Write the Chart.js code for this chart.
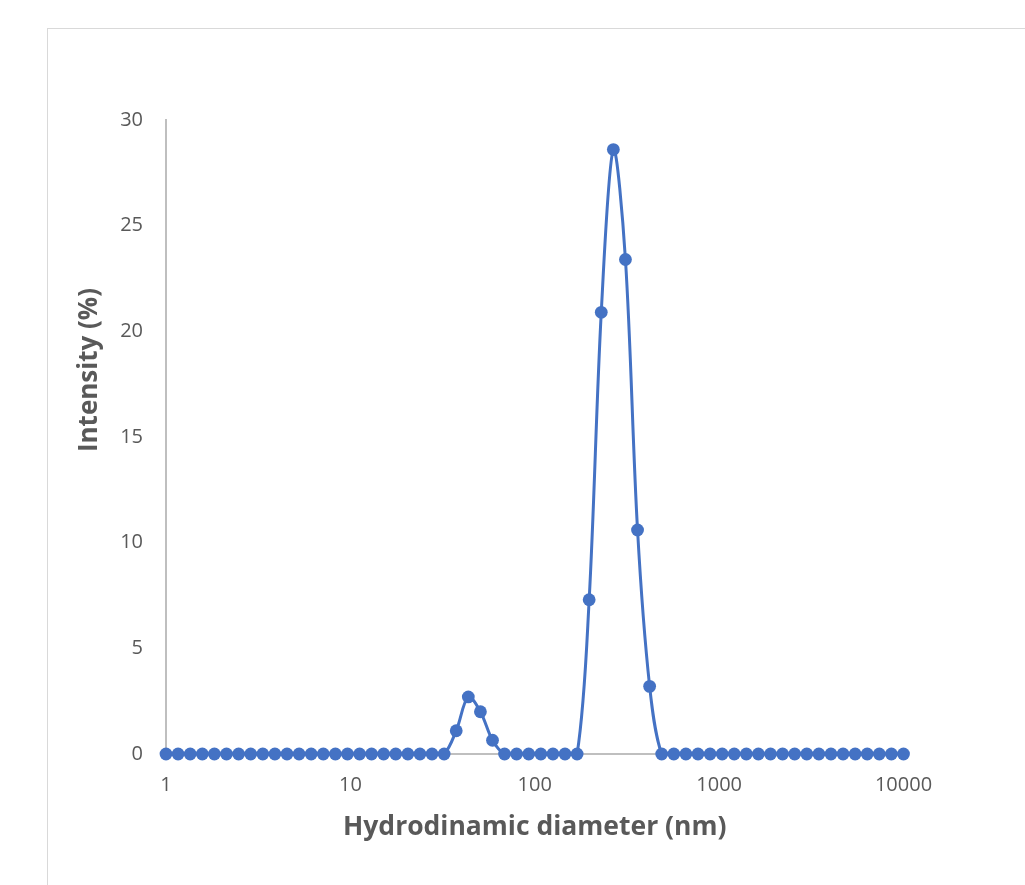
<!DOCTYPE html>
<html>
<head>
<meta charset="utf-8">
<script src="https://cdn.jsdelivr.net/npm/chart.js@4/dist/chart.umd.min.js"></script>
<style>
  html, body { margin: 0; padding: 0; width: 1025px; height: 885px; overflow: hidden; background: #ffffff; }
  #frame { position: absolute; left: 47px; top: 28px; width: 1200px; height: 1100px; border: 1.5px solid #d9d9d9; box-sizing: border-box; }
  #c { position: absolute; left: 0; top: 0; }
</style>
</head>
<body>
<div id="frame"></div>
<canvas id="c" width="1025" height="885"></canvas>
<script>
// Hydrodynamic diameter bins (nm)
const diameters = [
  1, 1.163, 1.353, 1.574, 1.830, 2.129, 2.476, 2.880, 3.349, 3.896,
  4.532, 5.271, 6.131, 7.131, 8.294, 9.646, 11.22, 13.03, 15.15, 17.62,
  20.50, 23.84, 27.72, 32.25, 37.50, 43.62, 50.74, 59.00, 68.59, 79.73,
  92.73, 107.9, 125.5, 145.9, 169.7, 197.3, 229.5, 266.9, 310.4, 361.0,
  419.9, 488.2, 567.8, 660.4, 768.0, 893.3, 1039, 1208, 1405, 1633,
  1900, 2209, 2569, 2988, 3475, 4042, 4701, 5467, 6358, 7392,
  8597, 10000
];
// Intensity (%) per bin
const intensity = [
  0, 0, 0, 0, 0, 0, 0, 0, 0, 0,
  0, 0, 0, 0, 0, 0, 0, 0, 0, 0,
  0, 0, 0, 0, 1.1, 2.7, 2.0, 0.65, 0, 0,
  0, 0, 0, 0, 0, 7.3, 20.9, 28.6, 23.4, 10.6,
  3.2, 0, 0, 0, 0, 0, 0, 0, 0, 0,
  0, 0, 0, 0, 0, 0, 0, 0, 0, 0,
  0, 0
];
const xTicks = [1, 10, 100, 1000, 10000];
const yTicks = [0, 5, 10, 15, 20, 25, 30];
const xTitle = 'Hydrodinamic diameter (nm)';
const yTitle = 'Intensity (%)';

const points = diameters.map((d, i) => ({ x: d, y: intensity[i] }));

const titlePlugin = {
  id: 'axisTitles',
  afterDraw(chart) {
    const ctx = chart.ctx;
    ctx.save();
    ctx.fillStyle = '#595959';
    ctx.textAlign = 'center';
    ctx.textBaseline = 'alphabetic';
    const xs = chart.scales.x;
    ctx.font = 'bold 26.5px "Open Sans"';
    ctx.fillText(xTitle, (xs.left + xs.right) / 2, 835);
    ctx.font = 'bold 26px "Open Sans"';
    ctx.translate(97, 370);
    ctx.rotate(-Math.PI / 2);
    ctx.fillText(yTitle, 0, 0);
    ctx.restore();
  }
};

new Chart(document.getElementById('c'), {
  type: 'scatter',
  data: {
    datasets: [{
      data: points,
      showLine: true,
      borderColor: '#4472C4',
      backgroundColor: '#4472C4',
      borderWidth: 3,
      tension: 0.33,
      pointRadius: 6.4,
      pointBorderWidth: 0,
      pointBorderColor: '#4472C4',
      pointBackgroundColor: '#4472C4',
      clip: false
    }]
  },
  options: {
    responsive: false,
    animation: false,
    devicePixelRatio: 1,
    layout: { padding: { top: 120, right: 121.5, left: 0, bottom: 0 } },
    plugins: { legend: { display: false }, tooltip: { enabled: false } },
    scales: {
      x: {
        type: 'logarithmic',
        min: 1,
        max: 10000,
        afterFit(scale) { scale.height = 131; },
        afterBuildTicks(scale) { scale.ticks = xTicks.map(v => ({ value: v })); },
        grid: { display: false, drawTicks: false },
        border: { display: true, color: '#bfbfbf', width: 2 },
        ticks: {
          color: '#595959',
          font: { family: '"Open Sans"', size: 20 },
          padding: 19,
          maxRotation: 0,
          autoSkip: false,
          callback: (v) => String(v)
        }
      },
      y: {
        min: 0,
        max: 30,
        afterFit(scale) { scale.width = 166; },
        afterBuildTicks(scale) { scale.ticks = yTicks.map(v => ({ value: v })); },
        grid: { display: false, drawTicks: false },
        border: { display: true, color: '#bfbfbf', width: 2 },
        ticks: {
          color: '#595959',
          font: { family: '"Open Sans"', size: 20 },
          padding: 23,
          callback: (v) => String(v)
        }
      }
    }
  },
  plugins: [titlePlugin]
});
</script>
</body>
</html>
